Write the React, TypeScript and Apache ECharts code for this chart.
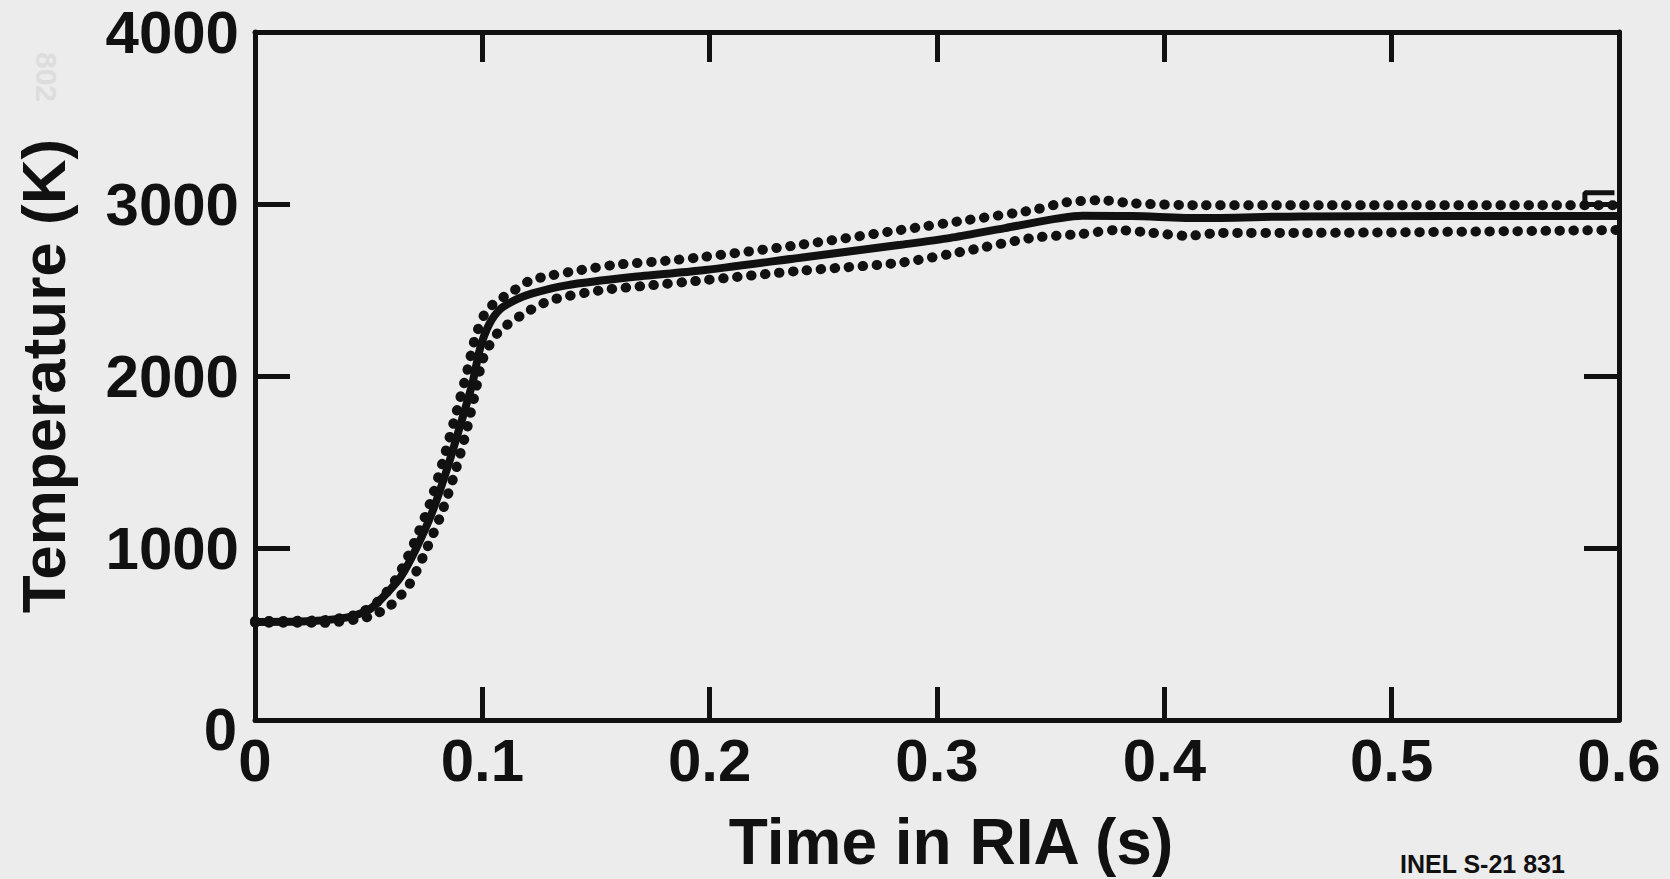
import React, { useEffect, useRef } from "react";
import * as echarts from "echarts";

// Tick labels
const xTickLabels = ["0", "0.1", "0.2", "0.3", "0.4", "0.5", "0.6"];
const yTickLabels = ["0", "1000", "2000", "3000", "4000"];

// Calculated (solid) curve: time (s) and temperature (K)
const calcTime = [0, 0.02, 0.04, 0.05, 0.056, 0.064, 0.071, 0.078, 0.0845, 0.09, 0.0955, 0.099, 0.103, 0.108, 0.115, 0.122, 0.137, 0.166, 0.196, 0.24, 0.284, 0.306, 0.33, 0.364, 0.386, 0.416, 0.46, 0.6];
const calcTemp = [570, 572, 595, 640, 710, 830, 1000, 1210, 1460, 1700, 1950, 2160, 2300, 2390, 2445, 2480, 2527, 2575, 2613, 2688, 2763, 2803, 2860, 2932, 2930, 2918, 2928, 2930];

// Upper dotted bound
const upperTime = [0, 0.03, 0.045, 0.055, 0.063, 0.07, 0.077, 0.083, 0.088, 0.093, 0.097, 0.101, 0.105, 0.114, 0.121, 0.13, 0.142, 0.159, 0.181, 0.196, 0.24, 0.284, 0.313, 0.342, 0.357, 0.372, 0.386, 0.416, 0.46, 0.6];
const upperTemp = [575, 580, 615, 700, 840, 1030, 1260, 1520, 1760, 2010, 2230, 2360, 2420, 2498, 2555, 2584, 2613, 2647, 2670, 2690, 2763, 2849, 2906, 2964, 3010, 3022, 3004, 2993, 2993, 2993];

// Lower dotted bound
const lowerTime = [0, 0.03, 0.05, 0.06, 0.068, 0.075, 0.082, 0.088, 0.093, 0.097, 0.1, 0.104, 0.108, 0.118, 0.13, 0.152, 0.174, 0.196, 0.24, 0.284, 0.313, 0.342, 0.364, 0.379, 0.395, 0.41, 0.425, 0.46, 0.6];
const lowerTemp = [565, 565, 600, 670, 790, 980, 1200, 1440, 1680, 1910, 2090, 2200, 2268, 2360, 2440, 2498, 2527, 2555, 2612, 2659, 2728, 2803, 2826, 2849, 2832, 2815, 2832, 2832, 2849];

// Small step mark at the right end
const stepTime = [0.585, 0.585, 0.598];
const stepTemp = [2995, 3065, 3065];

const zip = (a: number[], b: number[]) => a.map((v, i) => [v, b[i]]);

const FONT = '"Liberation Sans", Arial, Helvetica, sans-serif';
const INK = "#111111";
const BG = "#ececec";

export default function App() {
  const ref = useRef<HTMLDivElement>(null);

  useEffect(() => {
    if (!ref.current) return;
    const chart = echarts.init(ref.current, null, { renderer: "svg" });
    const axisLine = { show: true, onZero: false, lineStyle: { color: INK, width: 5 } };
    const labelStyle = {
      fontSize: 60,
      fontWeight: "bold" as const,
      fontFamily: FONT,
      color: INK,
    };
    const dotted = {
      width: 10,
      type: [0.5, 13.5],
      cap: "round" as const,
      color: INK,
    };
    chart.setOption({
      animation: false,
      backgroundColor: BG,
      grid: { left: 255, right: 51, top: 32, bottom: 152 },
      xAxis: [
        {
          type: "value",
          position: "bottom",
          min: 0,
          max: 0.6,
          interval: 0.1,
          axisLine,
          axisTick: { show: true, inside: true, length: 33, lineStyle: { color: INK, width: 5 } },
          axisLabel: {
            ...labelStyle,
            margin: 10,
            formatter: (v: number) => xTickLabels[Math.round(v * 10)],
          },
          splitLine: { show: false },
          name: "Time in RIA (s)",
          nameLocation: "middle",
          nameGap: 90,
          nameTextStyle: {
            fontSize: 64,
            fontWeight: "bold",
            fontFamily: FONT,
            color: INK,
            padding: [0, 0, 0, 28],
          },
        },
        {
          type: "value",
          position: "top",
          min: 0,
          max: 0.6,
          interval: 0.1,
          axisLine,
          axisTick: { show: true, inside: true, length: 30, lineStyle: { color: INK, width: 5 } },
          axisLabel: { show: false },
          splitLine: { show: false },
        },
      ],
      yAxis: [
        {
          type: "value",
          position: "left",
          min: 0,
          max: 4000,
          interval: 1000,
          axisLine,
          axisTick: { show: true, inside: true, length: 35, lineStyle: { color: INK, width: 5 } },
          axisLabel: {
            ...labelStyle,
            margin: 16,
            formatter: (v: number) => {
              const s = yTickLabels[Math.round(v / 1000)];
              return v === 0 ? `{z|${s}}` : s;
            },
            rich: {
              z: { ...labelStyle, padding: [18, 2, 0, 0] },
            },
          },
          splitLine: { show: false },
          name: "Temperature (K)",
          nameLocation: "middle",
          nameGap: 181,
          nameTextStyle: { fontSize: 62, fontWeight: "bold", fontFamily: FONT, color: INK },
        },
        {
          type: "value",
          position: "right",
          min: 0,
          max: 4000,
          interval: 1000,
          axisLine,
          axisTick: { show: true, inside: true, length: 35, lineStyle: { color: INK, width: 5 } },
          axisLabel: { show: false },
          splitLine: { show: false },
        },
      ],
      series: [
        {
          name: "Upper bound",
          type: "line",
          xAxisIndex: 0,
          yAxisIndex: 0,
          data: zip(upperTime, upperTemp),
          showSymbol: false,
          smooth: 0.25,
          lineStyle: dotted,
        },
        {
          name: "Lower bound",
          type: "line",
          xAxisIndex: 0,
          yAxisIndex: 0,
          data: zip(lowerTime, lowerTemp),
          showSymbol: false,
          smooth: 0.25,
          lineStyle: dotted,
        },
        {
          name: "Calculated",
          type: "line",
          xAxisIndex: 0,
          yAxisIndex: 0,
          data: zip(calcTime, calcTemp),
          showSymbol: false,
          smooth: 0.25,
          lineStyle: { width: 8, color: INK },
        },
        {
          name: "Step",
          type: "line",
          xAxisIndex: 0,
          yAxisIndex: 0,
          data: zip(stepTime, stepTemp),
          showSymbol: false,
          lineStyle: { width: 5, color: INK },
        },
      ],
      graphic: [
        {
          type: "text",
          left: 1400,
          top: 851,
          style: {
            text: "INEL S-21 831",
            font: `bold 25px ${FONT}`,
            fill: INK,
          },
        },
        {
          type: "text",
          x: 46,
          y: 77,
          rotation: -Math.PI / 2,
          style: {
            text: "802",
            font: `bold 30px ${FONT}`,
            fill: "#dddddd",
            align: "center",
            verticalAlign: "middle",
          },
        },
      ],
    });
    return () => chart.dispose();
  }, []);

  return (
    <div
      ref={ref}
      style={{ position: "absolute", left: 0, top: 0, width: 1670, height: 879, background: BG }}
    />
  );
}
